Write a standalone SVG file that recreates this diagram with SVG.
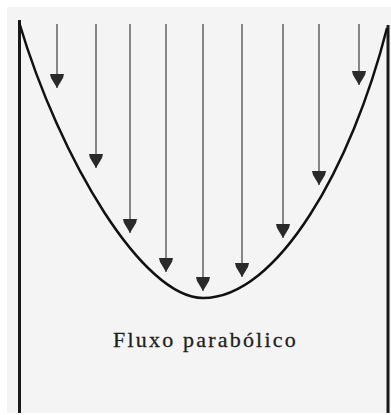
<svg xmlns="http://www.w3.org/2000/svg" width="391" height="415" viewBox="0 0 391 415">
  <style>
    .wall { stroke: #1a1a1a; stroke-width: 3; fill: none; }
    .curve { stroke: #111; stroke-width: 2.5; fill: none; }
    .arrow { stroke: #6a6a6a; stroke-width: 1.6; fill: none; marker-end: url(#head); }
    .label { font-family: "Liberation Serif", "Times New Roman", serif; font-size: 22px; fill: #1e1e1e; letter-spacing: 2.2px; stroke: #1e1e1e; stroke-width: 0.3px; }
  </style>
  <defs>
    <marker id="head" markerUnits="userSpaceOnUse" viewBox="-15 -8 16 16" refX="0" refY="0" markerWidth="16" markerHeight="16" orient="auto" overflow="visible">
      <path d="M-14,-7 L-14,7 L-10,6 L-5,3 L0,0 L-5,-3 L-10,-6 Z" fill="#2a2a2a"/>
    </marker>
  </defs>
  <rect x="0" y="0" width="391" height="415" fill="#ffffff"/>
  <rect x="7" y="7" width="384" height="406" fill="#f4f4f4"/>
  <g id="walls">
    <line class="wall" x1="19.5" y1="20" x2="19.5" y2="413"/>
    <line class="wall" x1="388" y1="25" x2="388" y2="413"/>
  </g>
  <g id="profile">
    <path class="curve" d="M19,22 C60,160 143,298 203,298 C278,298 352,166 387,28"/>
  </g>
  <g id="connectors">
    <line class="arrow" x1="57" y1="24" x2="57" y2="88"/>
    <line class="arrow" x1="96" y1="24" x2="96" y2="168"/>
    <line class="arrow" x1="130" y1="24" x2="130" y2="233"/>
    <line class="arrow" x1="166" y1="24" x2="166" y2="272"/>
    <line class="arrow" x1="203" y1="24" x2="203" y2="291"/>
    <line class="arrow" x1="242" y1="24" x2="242" y2="277"/>
    <line class="arrow" x1="283" y1="24" x2="283" y2="238"/>
    <line class="arrow" x1="319" y1="24" x2="319" y2="185"/>
    <line class="arrow" x1="359" y1="24" x2="359" y2="85"/>
  </g>
  <g id="label">
    <text class="label" x="113" y="347">Fluxo parabólico</text>
  </g>
</svg>
